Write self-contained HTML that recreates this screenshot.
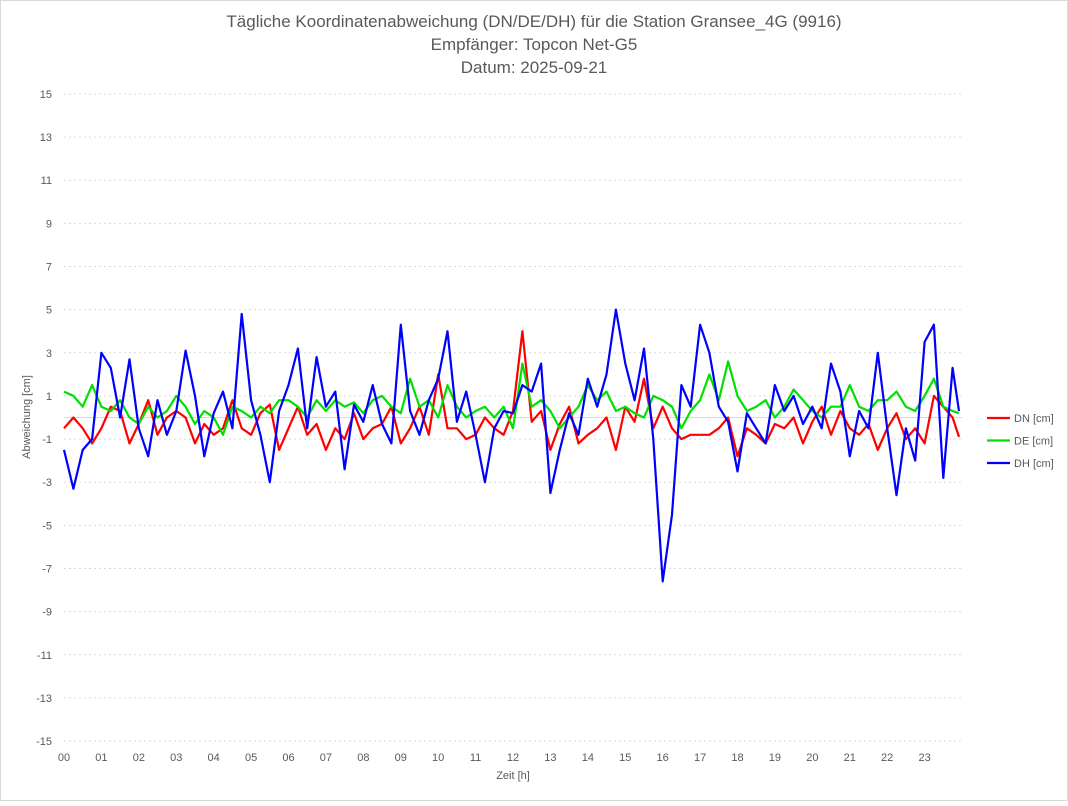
<!DOCTYPE html>
<html><head><meta charset="utf-8"><style>
body{margin:0;background:#fff;font-family:"Liberation Sans",sans-serif}
svg text{font-family:"Liberation Sans",sans-serif;fill:#595959}
</style></head><body>
<svg id="c" width="1068" height="801" xmlns="http://www.w3.org/2000/svg">
<rect x="0.5" y="0.5" width="1067" height="800" fill="#fff" stroke="#d9d9d9"/>
<text x="534" y="27" text-anchor="middle" font-size="17">Tägliche Koordinatenabweichung (DN/DE/DH) für die Station Gransee_4G (9916)</text>
<text x="534" y="50" text-anchor="middle" font-size="17">Empfänger: Topcon Net-G5</text>
<text x="534" y="73" text-anchor="middle" font-size="17">Datum: 2025-09-21</text>
<text transform="translate(30,417) rotate(-90)" text-anchor="middle" font-size="11">Abweichung [cm]</text>
<text x="513" y="779" text-anchor="middle" font-size="11">Zeit [h]</text>
<g id="grid"></g><g id="series"></g><g id="legend"></g>
</svg>
<script>
const hours=["00","01","02","03","04","05","06","07","08","09","10","11","12","13","14","15","16","17","18","19","20","21","22","23"];
const yTicks=[15,13,11,9,7,5,3,1,-1,-3,-5,-7,-9,-11,-13,-15];
const dn=[-0.5,0.0,-0.5,-1.2,-0.5,0.5,0.3,-1.2,-0.3,0.8,-0.8,0.0,0.3,0.0,-1.2,-0.3,-0.8,-0.5,0.8,-0.5,-0.8,0.2,0.6,-1.5,-0.5,0.5,-0.8,-0.3,-1.5,-0.5,-1.0,0.2,-1.0,-0.5,-0.3,0.5,-1.2,-0.5,0.5,-0.8,2.0,-0.5,-0.5,-1.0,-0.8,0.0,-0.5,-0.8,0.3,4.0,-0.2,0.3,-1.5,-0.3,0.5,-1.2,-0.8,-0.5,0.0,-1.5,0.5,-0.2,1.8,-0.5,0.5,-0.5,-1.0,-0.8,-0.8,-0.8,-0.5,0.0,-1.8,-0.5,-0.8,-1.2,-0.3,-0.5,0.0,-1.2,-0.2,0.5,-0.8,0.3,-0.5,-0.8,-0.3,-1.5,-0.5,0.2,-1.0,-0.5,-1.2,1.0,0.5,0.0,-0.9];
const de=[1.2,1.0,0.5,1.5,0.5,0.3,0.8,0.0,-0.3,0.5,0.0,0.3,1.0,0.5,-0.3,0.3,0.0,-0.8,0.5,0.3,0.0,0.5,0.2,0.8,0.8,0.5,0.0,0.8,0.3,0.8,0.5,0.7,0.2,0.8,1.0,0.5,0.2,1.8,0.5,0.8,0.0,1.5,0.5,0.0,0.3,0.5,0.0,0.5,-0.5,2.5,0.5,0.8,0.3,-0.5,0.0,0.5,1.5,0.8,1.2,0.3,0.5,0.2,0.0,1.0,0.8,0.5,-0.5,0.3,0.8,2.0,0.8,2.6,1.0,0.3,0.5,0.8,0.0,0.5,1.3,0.8,0.3,0.0,0.5,0.5,1.5,0.5,0.3,0.8,0.8,1.2,0.5,0.3,1.0,1.8,0.5,0.3,0.2];
const dh=[-1.5,-3.3,-1.5,-1.0,3.0,2.3,0.0,2.7,-0.5,-1.8,0.8,-0.8,0.3,3.1,1.0,-1.8,0.2,1.2,-0.5,4.8,0.8,-0.8,-3.0,0.3,1.5,3.2,-0.5,2.8,0.5,1.2,-2.4,0.6,-0.2,1.5,-0.3,-1.2,4.3,0.3,-0.8,0.8,1.8,4.0,-0.2,1.2,-0.8,-3.0,-0.5,0.3,0.2,1.5,1.2,2.5,-3.5,-1.5,0.2,-0.8,1.8,0.5,2.0,5.0,2.5,0.8,3.2,-1.0,-7.6,-4.5,1.5,0.5,4.3,3.0,0.5,-0.2,-2.5,0.2,-0.5,-1.2,1.5,0.3,1.0,-0.3,0.5,-0.5,2.5,1.2,-1.8,0.3,-0.5,3.0,-0.5,-3.6,-0.5,-2.0,3.5,4.3,-2.8,2.3,0.3];
const seriesNames=["DN [cm]","DE [cm]","DH [cm]"];
const colors=["#ff0000","#00e000","#0000ff"];
const X0=64,X1=962,Y0=417.5,PU=21.57;
const xs=h=>X0+(X1-X0)*h/24, ys=v=>Y0-v*PU;
const NS="http://www.w3.org/2000/svg";
const grid=document.getElementById('grid');
function mk(tag,attrs,parent){const e=document.createElementNS(NS,tag);for(const k in attrs)e.setAttribute(k,attrs[k]);parent.appendChild(e);return e;}
yTicks.forEach(v=>{
  const l=mk('line',{x1:X0,x2:X1,y1:ys(v),y2:ys(v),stroke:'#d9d9d9','stroke-dasharray':'2,3'},grid);
  
  
  const t=mk('text',{x:52,y:ys(v)+4,'text-anchor':'end','font-size':11},grid);
  t.textContent=v;
  
  
});
const z=mk('line',{x1:X0,x2:X1,y1:ys(0),y2:ys(0),stroke:'#d9d9d9'},grid);


hours.forEach((h,i)=>{
  const t=mk('text',{x:xs(i),y:761,'text-anchor':'middle','font-size':11},grid);
  t.textContent=h;
  
  
});
const sg=document.getElementById('series');
[dn,de,dh].forEach((arr,si)=>{
  const n=arr.length-1;
  const pts=arr.map((v,i)=>{const h=i<n?i*0.25:23.92;return xs(h).toFixed(1)+','+ys(v).toFixed(1);}).join(' ');
  const p=mk('polyline',{points:pts,fill:'none',stroke:colors[si],'stroke-width':2.2,'stroke-linejoin':'round'},sg);
  
  
});
const lg=document.getElementById('legend');
seriesNames.forEach((nm,i)=>{
  const y=418+i*22.5;
  const l=mk('line',{x1:987,x2:1010,y1:y,y2:y,stroke:colors[i],'stroke-width':2.2},lg);
  
  
  const t=mk('text',{x:1014,y:y+4,'font-size':11},lg);
  t.textContent=nm;
  
  
});
</script>
</body></html>
